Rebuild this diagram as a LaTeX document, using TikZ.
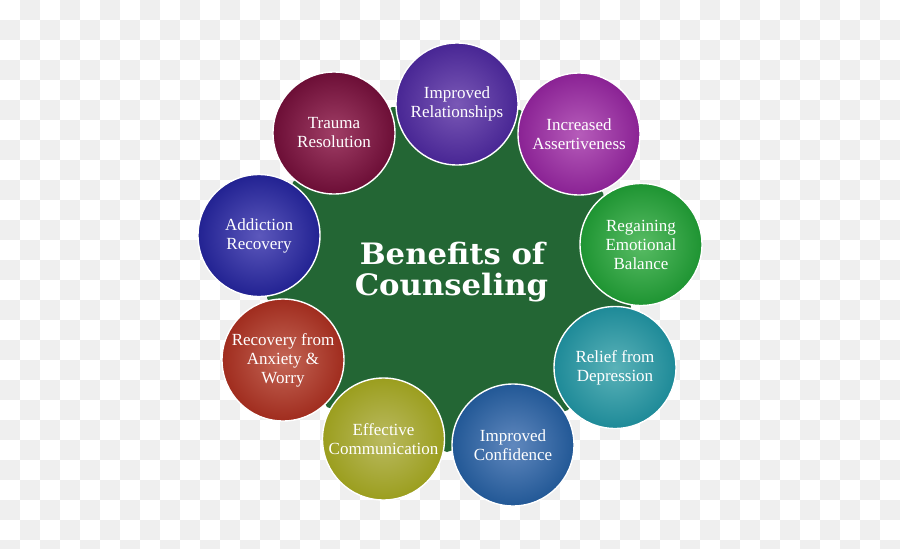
\documentclass[tikz,border=0pt]{standalone}
\usepackage{fontspec}
\setmainfont{Liberation Serif}
\newfontfamily\titlefont{DejaVu Serif}
\definecolor{chk}{RGB}{239,239,239}
\definecolor{hub}{RGB}{35,102,52}
\begin{document}
\begin{tikzpicture}[x=1pt,y=-1pt,
  bubble/.style={circle, minimum size=122pt, inner sep=0pt, draw=white, line width=1.4pt,
    shading=radial, text=white, align=center,
    font=\fontsize{17}{19}\selectfont},
  titletxt/.style={text=white, anchor=base, inner sep=0pt,
    font=\titlefont\bfseries\fontsize{29.5}{31}\selectfont}]
\useasboundingbox (0,0) rectangle (900,549);
\begin{scope}
\clip (0,0) rectangle (900,549);
\foreach \j in {0,...,27}{
  \pgfmathtruncatemacro\st{mod(\j+1,2)}
  \pgfmathtruncatemacro\stt{\st+2}
  \foreach \i in {\st,\stt,...,44}{
    \fill[chk] (\i*20,\j*20) rectangle ++(20,20);
  }
}
\end{scope}
% central hub
\fill[hub] (392,107) -- (520,110) -- (603,193) -- (631,307) -- (568,410)
  -- (447,452) -- (327,407) -- (267,298) -- (293,182) -- cycle;
% bubbles
\node[bubble, inner color={rgb,255:red,122;green,88;blue,182}, outer color={rgb,255:red,72;green,38;blue,148}]
  (rel) at (457,104) {Improved\\Relationships};
\node[bubble, inner color={rgb,255:red,182;green,92;blue,186}, outer color={rgb,255:red,138;green,34;blue,148}]
  (ass) at (579,134) {Increased\\Assertiveness};
\node[bubble, inner color={rgb,255:red,88;green,188;blue,100}, outer color={rgb,255:red,30;green,148;blue,50}]
  (reg) at (641,244.5) {Regaining\\Emotional\\Balance};
\node[bubble, inner color={rgb,255:red,90;green,178;blue,184}, outer color={rgb,255:red,30;green,138;blue,152}]
  (dep) at (615,367.5) {Relief from\\Depression};
\node[bubble, inner color={rgb,255:red,96;green,136;blue,190}, outer color={rgb,255:red,34;green,88;blue,150}]
  (con) at (513,445) {Improved\\Confidence};
\node[bubble, inner color={rgb,255:red,186;green,186;blue,96}, outer color={rgb,255:red,155;green,158;blue,30}]
  (com) at (383.5,439) {Effective\\Communication};
\node[bubble, inner color={rgb,255:red,196;green,102;blue,86}, outer color={rgb,255:red,160;green,44;blue,30}]
  (anx) at (283,360) {Recovery from\\Anxiety \&\\Worry};
\node[bubble, inner color={rgb,255:red,92;green,88;blue,188}, outer color={rgb,255:red,34;green,34;blue,146}]
  (add) at (259,235.5) {Addiction\\Recovery};
\node[bubble, inner color={rgb,255:red,160;green,62;blue,102}, outer color={rgb,255:red,108;green,14;blue,54}]
  (tra) at (334,133) {Trauma\\Resolution};
% title
\node[titletxt] (t1) at (452.5,264) {\scalebox{1.04}[1]{Benefits of}};
\node[titletxt] (t2) at (451.5,295) {\scalebox{1.04}[1]{Counseling}};
\end{tikzpicture}
\end{document}
